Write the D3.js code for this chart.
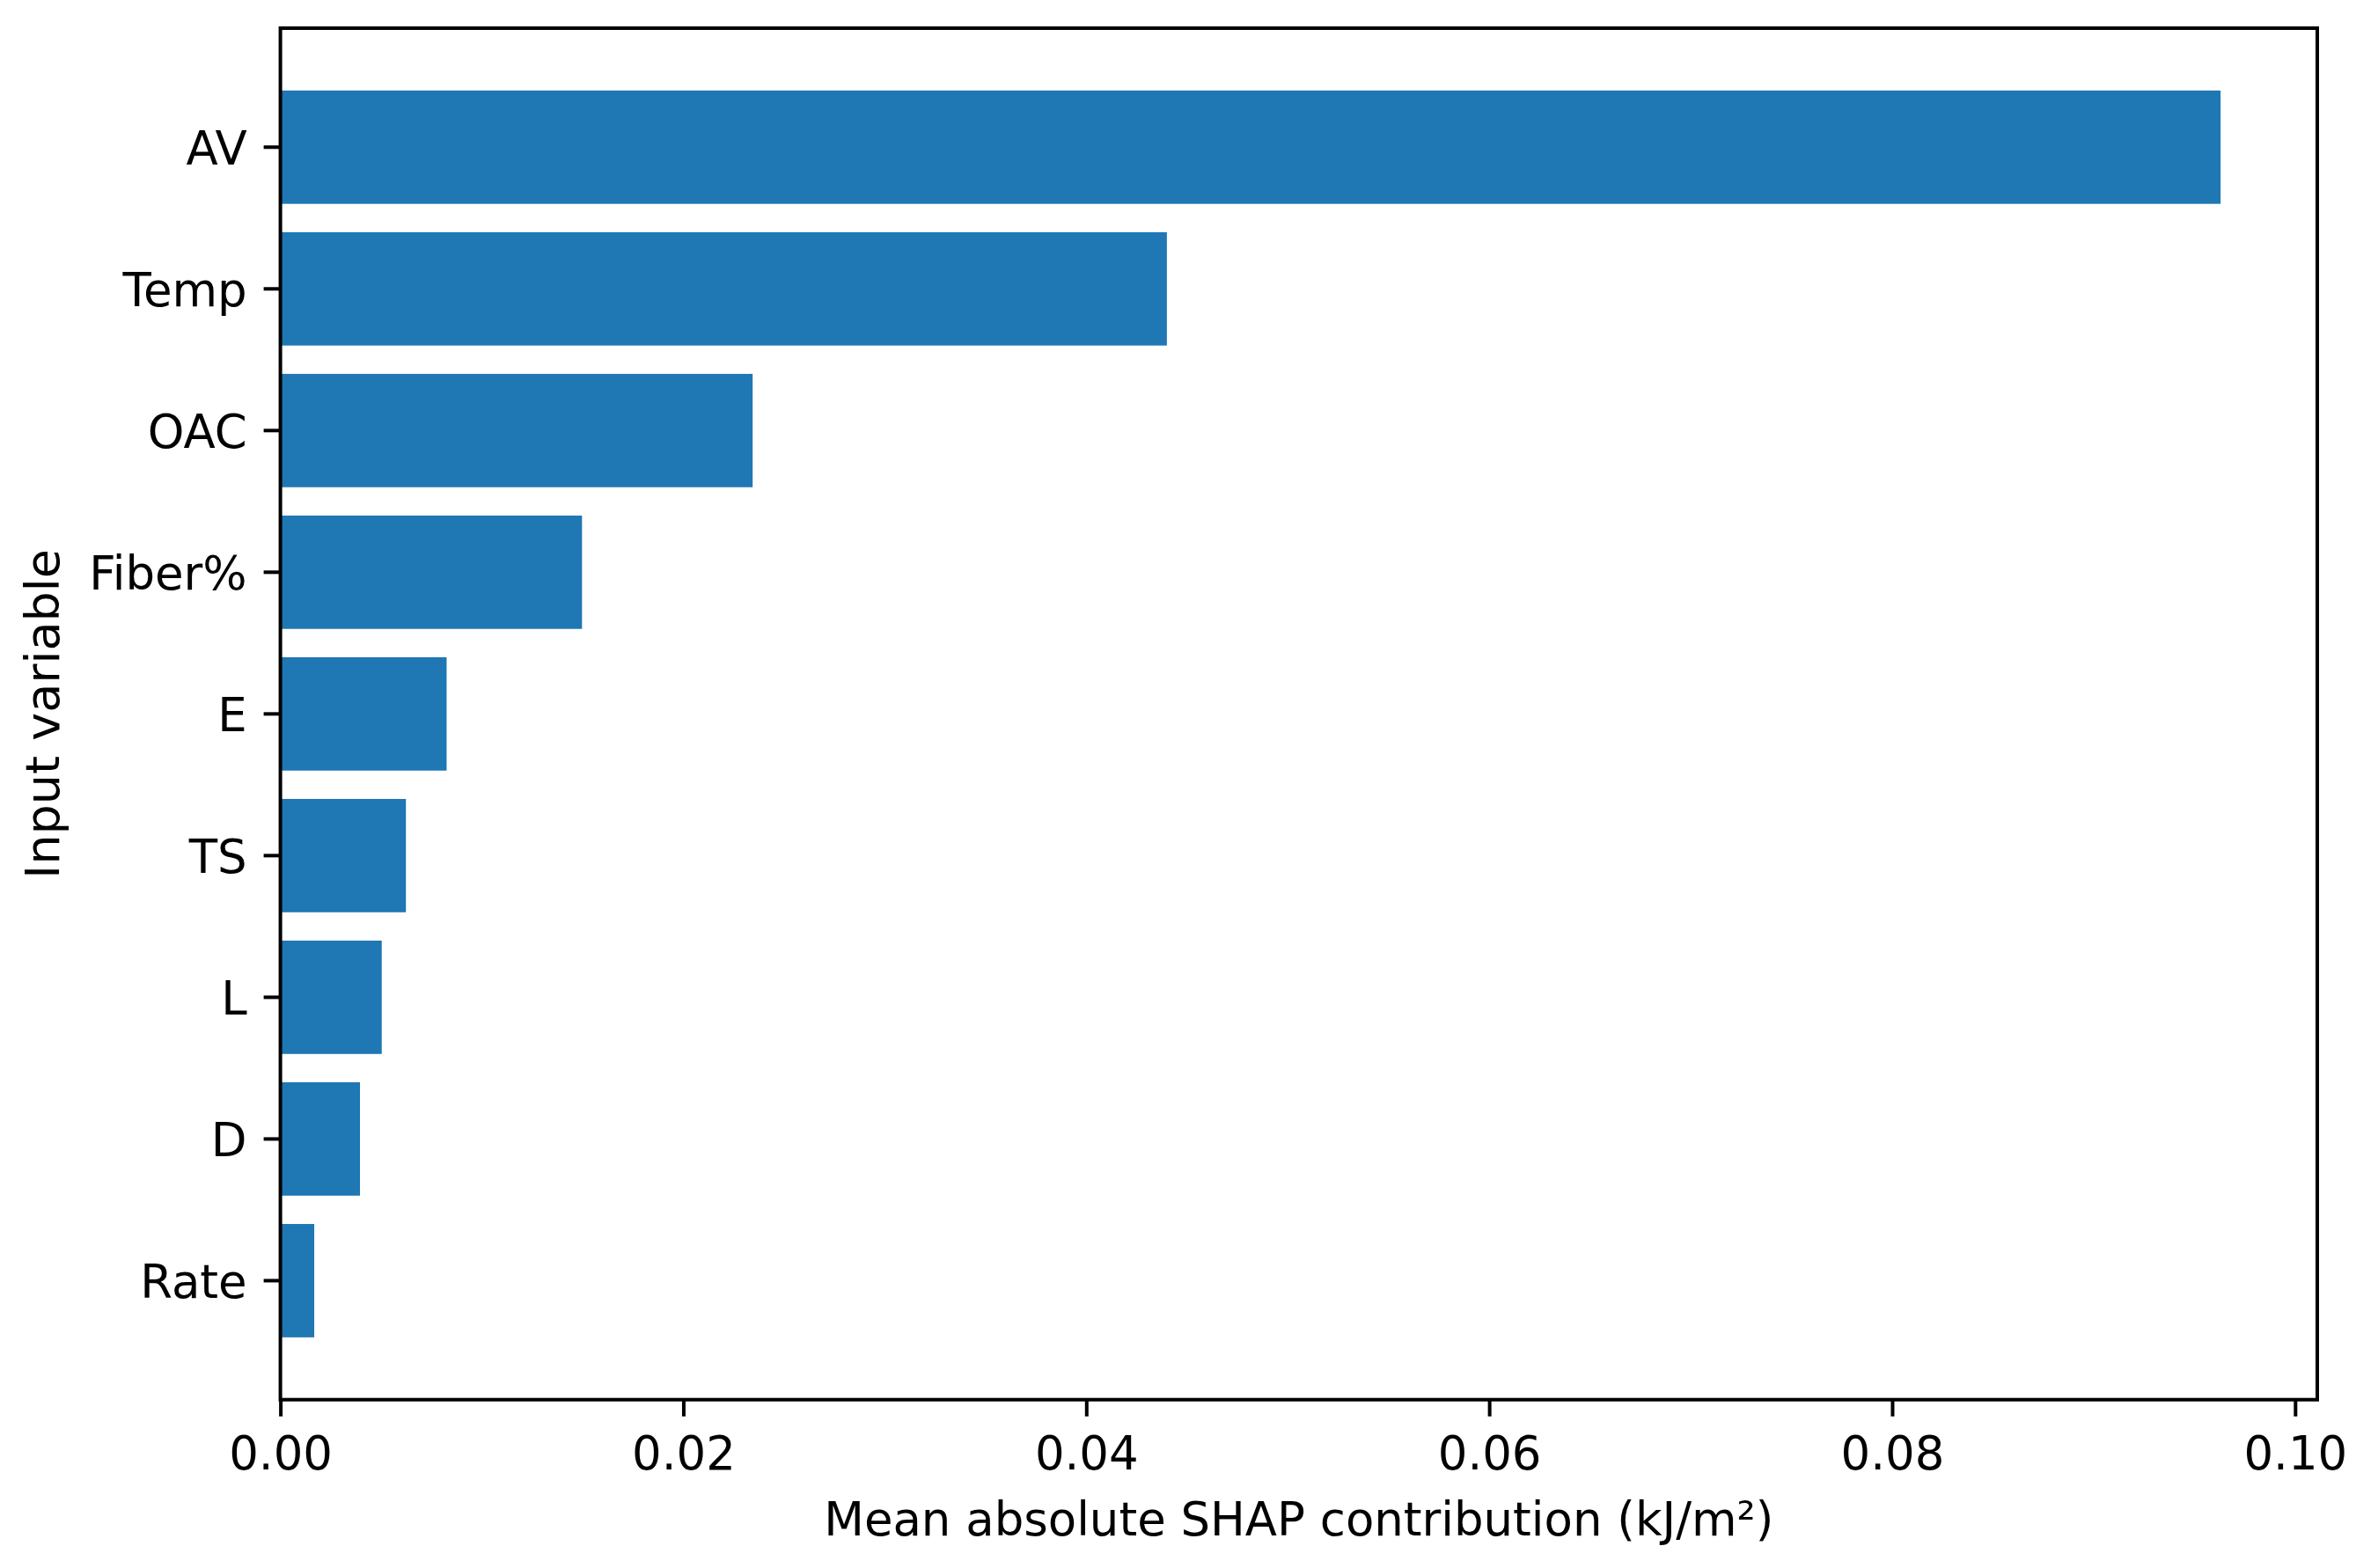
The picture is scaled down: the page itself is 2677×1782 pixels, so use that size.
<!DOCTYPE html>
<html>
<head>
<meta charset="utf-8">
<script src="https://cdn.jsdelivr.net/npm/d3@7"></script>
<style>
  html, body { margin: 0; padding: 0; background: #fff; }
  svg { display: block; }
  text { font-family: "DejaVu Sans", sans-serif; fill: #000; }
</style>
</head>
<body>
<div id="chart"></div>
<script>
var variables = ["AV", "Temp", "OAC", "Fiber%", "E", "TS", "L", "D", "Rate"];
var meanShap = [0.0963, 0.0440, 0.02344, 0.01497, 0.00825, 0.00623, 0.00503, 0.00395, 0.00168];
var xTicks = [0, 0.02, 0.04, 0.06, 0.08, 0.10];

var W = 2677, H = 1782;
var margin = { top: 32, right: 44, bottom: 191.3, left: 318.6 };
var width = W - margin.left - margin.right;
var height = H - margin.top - margin.bottom;
var fontSize = 54;
var squeeze = 0.98; // the reference glyphs are a touch narrower than DejaVu
var tickLen = 19, tickPad = 19;

var svg = d3.select("#chart")
    .append("svg")
    .attr("width", W)
    .attr("height", H);

svg.append("rect")
    .attr("width", W)
    .attr("height", H)
    .attr("fill", "#fff");

var g = svg.append("g")
    .attr("transform", "translate(" + margin.left + "," + margin.top + ")");

var x = d3.scaleLinear()
    .domain([0, 0.1011])
    .range([0, width]);

var y = d3.scaleBand()
    .domain(variables)
    .range([0, height])
    .paddingInner(0.2)
    .paddingOuter(0.44);

// bars
g.selectAll(".bar")
    .data(variables)
    .enter()
    .append("rect")
    .attr("class", "bar")
    .attr("x", x(0))
    .attr("y", function(d) { return y(d); })
    .attr("width", function(d, i) { return x(meanShap[i]) - x(0); })
    .attr("height", y.bandwidth())
    .attr("fill", "#1f77b4");

// x axis
var xAxis = d3.axisBottom(x)
    .tickValues(xTicks)
    .tickFormat(d3.format(".2f"))
    .tickSize(tickLen)
    .tickPadding(tickPad);

var gx = g.append("g")
    .attr("transform", "translate(0," + height + ")")
    .call(xAxis);
gx.select(".domain").remove();
gx.selectAll(".tick line").attr("stroke", "#000").attr("stroke-width", 4);
gx.selectAll(".tick text")
    .attr("font-size", fontSize)
    .attr("font-family", "DejaVu Sans")
    .attr("dy", null)
    .attr("y", tickLen + tickPad + fontSize * 0.76)
    .attr("transform", "scale(" + squeeze + ",1)");

// y axis
var yAxis = d3.axisLeft(y)
    .tickSize(tickLen)
    .tickPadding(tickPad);

var gy = g.append("g").call(yAxis);
gy.select(".domain").remove();
gy.selectAll(".tick line").attr("stroke", "#000").attr("stroke-width", 4);
gy.selectAll(".tick text")
    .attr("font-size", fontSize)
    .attr("font-family", "DejaVu Sans")
    .attr("dy", null)
    .attr("x", -(tickLen + tickPad) / squeeze)
    .attr("y", fontSize * 0.365)
    .attr("transform", "scale(" + squeeze + ",1)");

// frame
g.append("rect")
    .attr("x", 0)
    .attr("y", 0)
    .attr("width", width)
    .attr("height", height)
    .attr("fill", "none")
    .attr("stroke", "#000")
    .attr("stroke-width", 4);

// axis titles
svg.append("text")
    .attr("transform", "translate(" + (margin.left + width / 2) + ",1745) scale(" + squeeze + ",1)")
    .attr("text-anchor", "middle")
    .attr("font-size", fontSize)
    .text("Mean absolute SHAP contribution (kJ/m²)");

svg.append("text")
    .attr("transform", "translate(67," + (margin.top + height / 2) + ") rotate(-90)")
    .attr("text-anchor", "middle")
    .attr("font-size", fontSize)
    .text("Input variable");
</script>
</body>
</html>
